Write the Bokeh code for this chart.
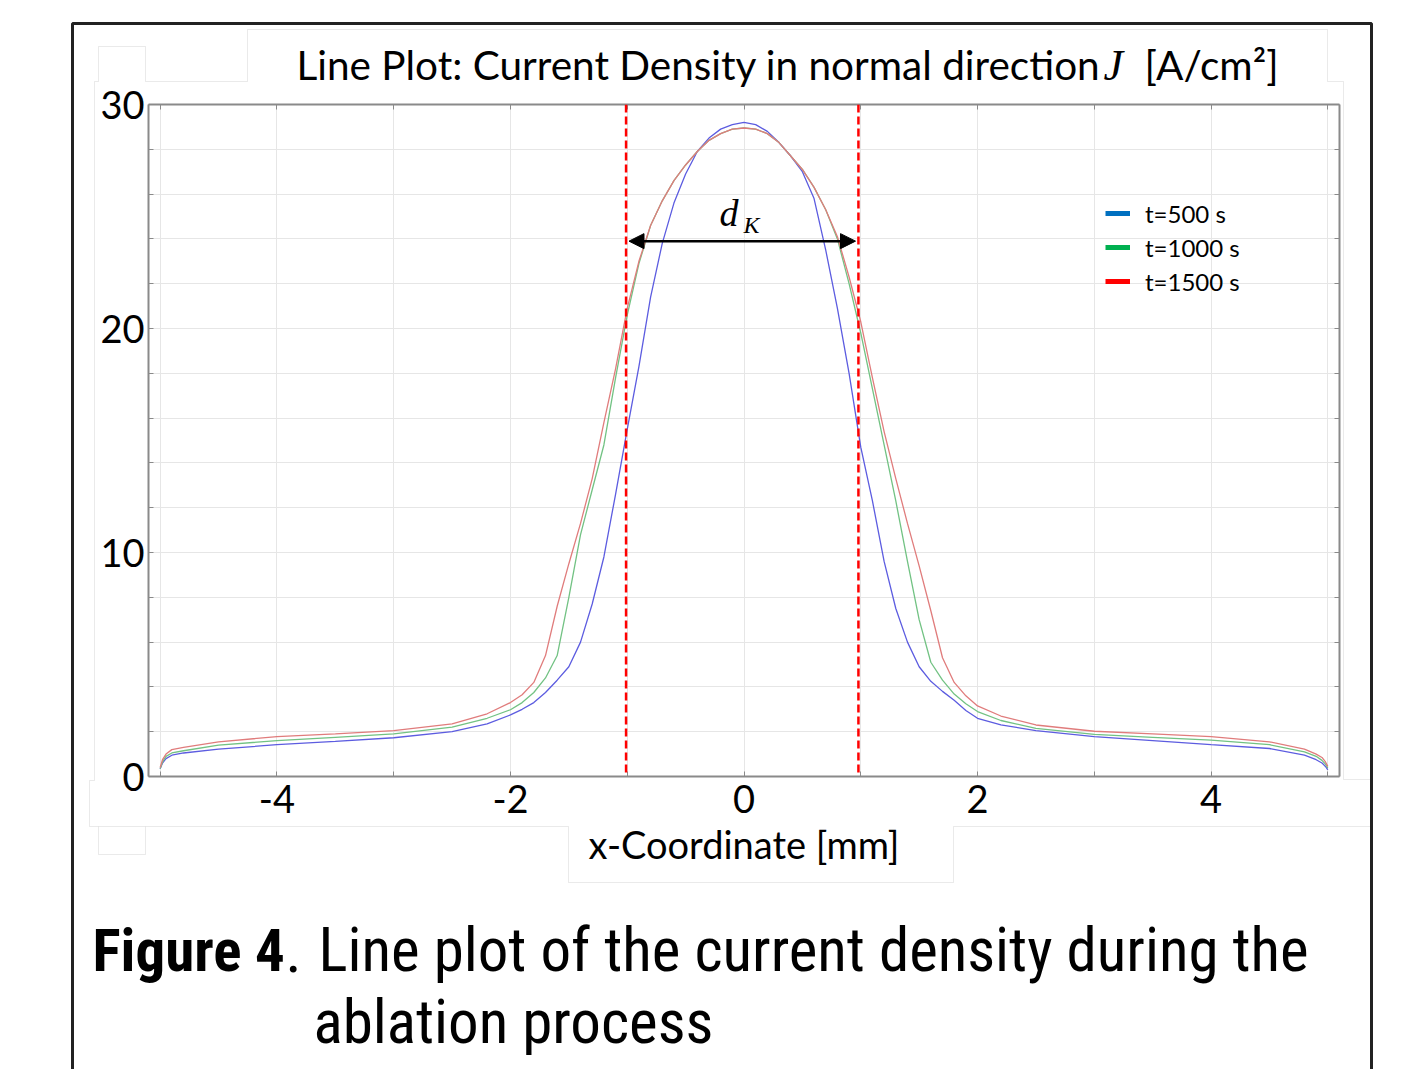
from bokeh.plotting import figure
from bokeh.models import (Range1d, FixedTicker, LinearAxis, Span, Arrow, NormalHead, Label,
                          Legend, LegendItem, BoxAnnotation, PolyAnnotation)
from bokeh.embed import file_html
from bokeh.resources import INLINE

# ---------------- data ----------------
x_mm = [-5.0, -4.98, -4.95, -4.9, -4.8, -4.5, -4.0, -3.5, -3.0, -2.5, -2.2, -2.0,
        -1.9, -1.8, -1.7, -1.6, -1.5, -1.4, -1.3, -1.2, -1.1, -1.0,
        -0.9, -0.8, -0.7, -0.6, -0.5, -0.4, -0.3, -0.2, -0.1, 0.0,
        0.1, 0.2, 0.3, 0.4, 0.5, 0.6, 0.7, 0.8, 0.9, 1.0,
        1.1, 1.2, 1.3, 1.4, 1.5, 1.6, 1.7, 1.8, 1.9, 2.0,
        2.2, 2.5, 3.0, 3.5, 4.0, 4.5, 4.8, 4.9, 4.95, 4.98, 5.0]

j_t500 = [0.35, 0.6, 0.8, 0.95, 1.05, 1.22, 1.42, 1.57, 1.73, 2.0, 2.35, 2.75,
          3.0, 3.3, 3.75, 4.3, 4.9, 6.0, 7.7, 9.8, 12.6, 15.5,
          18.3, 21.4, 23.8, 25.6, 26.9, 27.9, 28.5, 28.9, 29.1, 29.2,
          29.1, 28.8, 28.3, 27.7, 27.0, 25.8, 23.5, 20.9, 18.0, 14.7,
          12.3, 9.6, 7.5, 6.0, 4.9, 4.25, 3.8, 3.4, 2.95, 2.6,
          2.3, 2.05, 1.78, 1.6, 1.42, 1.25, 0.95, 0.75, 0.6, 0.45, 0.3]

j_t1000 = [0.35, 0.65, 0.9, 1.05, 1.15, 1.4, 1.6, 1.75, 1.9, 2.2, 2.6, 2.98,
           3.3, 3.75, 4.4, 5.4, 8.0, 10.8, 12.8, 14.8, 17.8, 20.6,
           22.9, 24.6, 25.7, 26.6, 27.3, 27.9, 28.4, 28.7, 28.9, 28.95,
           28.9, 28.7, 28.3, 27.7, 27.1, 26.3, 25.3, 24.0, 22.0, 19.8,
           17.3, 14.8, 12.3, 9.6, 7.0, 5.1, 4.3, 3.68, 3.25, 2.9,
           2.5, 2.15, 1.88, 1.75, 1.62, 1.42, 1.1, 0.9, 0.72, 0.55, 0.38]

j_t1500 = [0.4, 0.75, 1.0, 1.2, 1.3, 1.55, 1.78, 1.9, 2.05, 2.35, 2.8, 3.3,
           3.65, 4.2, 5.4, 7.6, 9.5, 11.3, 13.3, 15.8, 18.2, 20.9,
           23.0, 24.6, 25.7, 26.6, 27.3, 27.9, 28.4, 28.7, 28.9, 28.95,
           28.9, 28.7, 28.3, 27.7, 27.1, 26.3, 25.3, 24.1, 22.3, 20.3,
           17.8, 15.4, 13.3, 11.3, 9.4, 7.4, 5.3, 4.2, 3.6, 3.15,
           2.7, 2.3, 2.02, 1.9, 1.78, 1.55, 1.22, 1.0, 0.85, 0.65, 0.45]

series_names = ["t=500 s", "t=1000 s", "t=1500 s"]
x_major_ticks = [-4, -2, 0, 2, 4]
x_tick_labels = {-4: "-4", -2: "-2", 0: "0", 2: "2", 4: "4"}
x_minor_ticks = [-5, -3, -1, 1, 3, 5]
y_major_ticks = [0, 10, 20, 30]
y_minor_ticks = [2, 4, 6, 8, 12, 14, 16, 18, 22, 24, 26, 28]
dk_edges = [-1.01, 0.98]
dk_arrow_level = 23.9

title_main = "Line Plot: Current Density in normal direction"
title_symbol = "J"
title_unit = "[A/cm²]"
x_axis_title = "x-Coordinate [mm]"
caption_bold = "Figure 4"
caption_line1 = "Line plot of the current density during the"
caption_line2 = "ablation process"

# ---------------- styles ----------------
W, H = 1422, 1069
line_colors = ["#5c5ce0", "#72c283", "#e07c7c"]
legend_colors = ["#0070c0", "#00b050", "#ff0000"]
FONT = "Lato"
CAP_FONT = "Roboto Condensed"
GRAY = "#8a8a8a"
FRAME_L, FRAME_B = 148, 776
BASE = 0.39   # offset of the drawn baseline below the label anchor, in em

# ======== background page: frame, panel outlines, title and caption ========
bg = figure(width=W, height=H, x_range=Range1d(0, W), y_range=Range1d(H, 0),
            output_backend="svg", toolbar_location=None, min_border=0,
            x_axis_location=None, y_axis_location=None,
            background_fill_color="white", border_fill_color="white")
bg.outline_line_color = None
bg.grid.grid_line_color = None


def page_text(text, px, py, size, font=FONT, style="normal"):
    bg.add_layout(Label(x=px, y=py - BASE * size, text=text, text_font=font,
                        text_font_size=f"{size}px", text_font_style=style, text_color="black",
                        text_baseline="alphabetic", text_align="left"))


panel_paths = [
    [(89, 780), (94, 780), (94, 81), (98, 81), (98, 46), (145, 46), (145, 81), (247, 81),
     (247, 29), (1327, 29), (1327, 81), (1343, 81), (1343, 779), (1371, 779)],
    [(89, 780), (89, 826), (568, 826), (568, 882), (953, 882), (953, 826), (1371, 826)],
    [(98, 826), (98, 854), (145, 854), (145, 826)],
]
for path in panel_paths:
    full = path + path[::-1]
    bg.add_layout(PolyAnnotation(xs=[a for a, b in full], ys=[b for a, b in full],
                                 fill_alpha=0, line_color="#d6d6d6", line_width=1))

bg.add_layout(BoxAnnotation(left=72, right=1371, top=23, bottom=H + 40,
                            fill_alpha=0, line_color="#222222", line_width=3, line_alpha=1))

page_text(title_main, 296, 80, 40.5)
page_text(title_symbol, 1103, 82, 44, font="Liberation Serif", style="italic")
page_text(title_unit, 1144, 80, 40.5)

page_text(caption_bold, 92, 973, 59, font=CAP_FONT, style="bold")
page_text(".", 285, 973, 61, font=CAP_FONT)
page_text(caption_line1, 318, 973, 61, font=CAP_FONT)
page_text(caption_line2, 313, 1045, 61, font=CAP_FONT)

# ======== the chart (drawn on top, transparent border) ========
p = figure(width=W, height=H, x_range=Range1d(-5.1, 5.1), y_range=Range1d(0, 30),
           output_backend="svg", toolbar_location=None,
           min_border_left=148, min_border_right=83, min_border_top=104, min_border_bottom=293,
           background_fill_color="white", border_fill_color=None,
           styles={"margin-top": f"-{H}px"})
p.outline_line_color = None

xt = FixedTicker(ticks=x_major_ticks, minor_ticks=x_minor_ticks)
yt = FixedTicker(ticks=y_major_ticks, minor_ticks=y_minor_ticks)
p.xaxis.ticker = xt
p.yaxis.ticker = yt
p.add_layout(LinearAxis(ticker=xt), "above")
p.add_layout(LinearAxis(ticker=yt), "right")

for ax in p.axis:
    ax.axis_line_color = GRAY
    ax.axis_line_width = 2
    ax.major_tick_line_color = GRAY
    ax.minor_tick_line_color = GRAY
    ax.major_tick_in = 5
    ax.major_tick_out = 0
    ax.minor_tick_in = 5
    ax.minor_tick_out = 0
    ax.major_label_text_font = FONT
    ax.major_label_text_font_size = "38px"
    ax.major_label_text_color = "black"

for ax in (p.above[0], p.right[0]):
    ax.major_label_text_font_size = "10px"
    ax.major_label_text_color = None
p.below[0].major_label_overrides = x_tick_labels
p.below[0].major_label_standoff = 8
p.left[0].major_label_standoff = 4
p.below[0].axis_label = x_axis_title
p.below[0].axis_label_text_font = FONT
p.below[0].axis_label_text_font_size = "38px"
p.below[0].axis_label_text_font_style = "normal"
p.below[0].axis_label_text_color = "black"
p.below[0].axis_label_standoff = 5

for g in (p.xgrid[0], p.ygrid[0]):
    g.grid_line_color = "#e6e6e6"
    g.minor_grid_line_color = "#e6e6e6"
    g.grid_line_width = 1

for ys, c in zip([j_t500, j_t1000, j_t1500], line_colors):
    p.line(x_mm, ys, line_color=c, line_width=1.3)

for e in dk_edges:
    p.add_layout(Span(location=e, dimension="height", line_color="#ff0000",
                      line_dash="8 4", line_width=2.5))

p.add_layout(Arrow(x_start=dk_edges[0] + 0.025, y_start=dk_arrow_level,
                   x_end=dk_edges[1] - 0.025, y_end=dk_arrow_level,
                   line_color="black", line_width=2.5,
                   start=NormalHead(size=15, fill_color="black", line_color="black"),
                   end=NormalHead(size=15, fill_color="black", line_color="black")))


def frame_text(text, px, py, size, font, style):
    p.add_layout(Label(x=px - FRAME_L, y=FRAME_B - py + BASE * size,
                       x_units="screen", y_units="screen",
                       text=text, text_font=font, text_font_size=f"{size}px",
                       text_font_style=style, text_color="black",
                       text_baseline="alphabetic", text_align="left"))


frame_text("d", 719, 227, 38, "Liberation Serif", "italic")
frame_text("K", 743, 234, 24, "Liberation Serif", "italic")

nan = float("nan")
swatches = [p.line(x=[nan], y=[nan], line_color=c, line_width=5) for c in legend_colors]
legend = Legend(items=[LegendItem(label=n, renderers=[r]) for n, r in zip(series_names, swatches)],
                location=(1105 - FRAME_L, FRAME_B - 296), glyph_width=25, glyph_height=20,
                label_height=30, spacing=4, padding=0, margin=0, label_standoff=15,
                label_text_font=FONT, label_text_font_size="24px", label_text_color="black",
                border_line_color=None, background_fill_alpha=0)
p.add_layout(legend)

open("out.html", "w").write(file_html([bg, p], INLINE))
